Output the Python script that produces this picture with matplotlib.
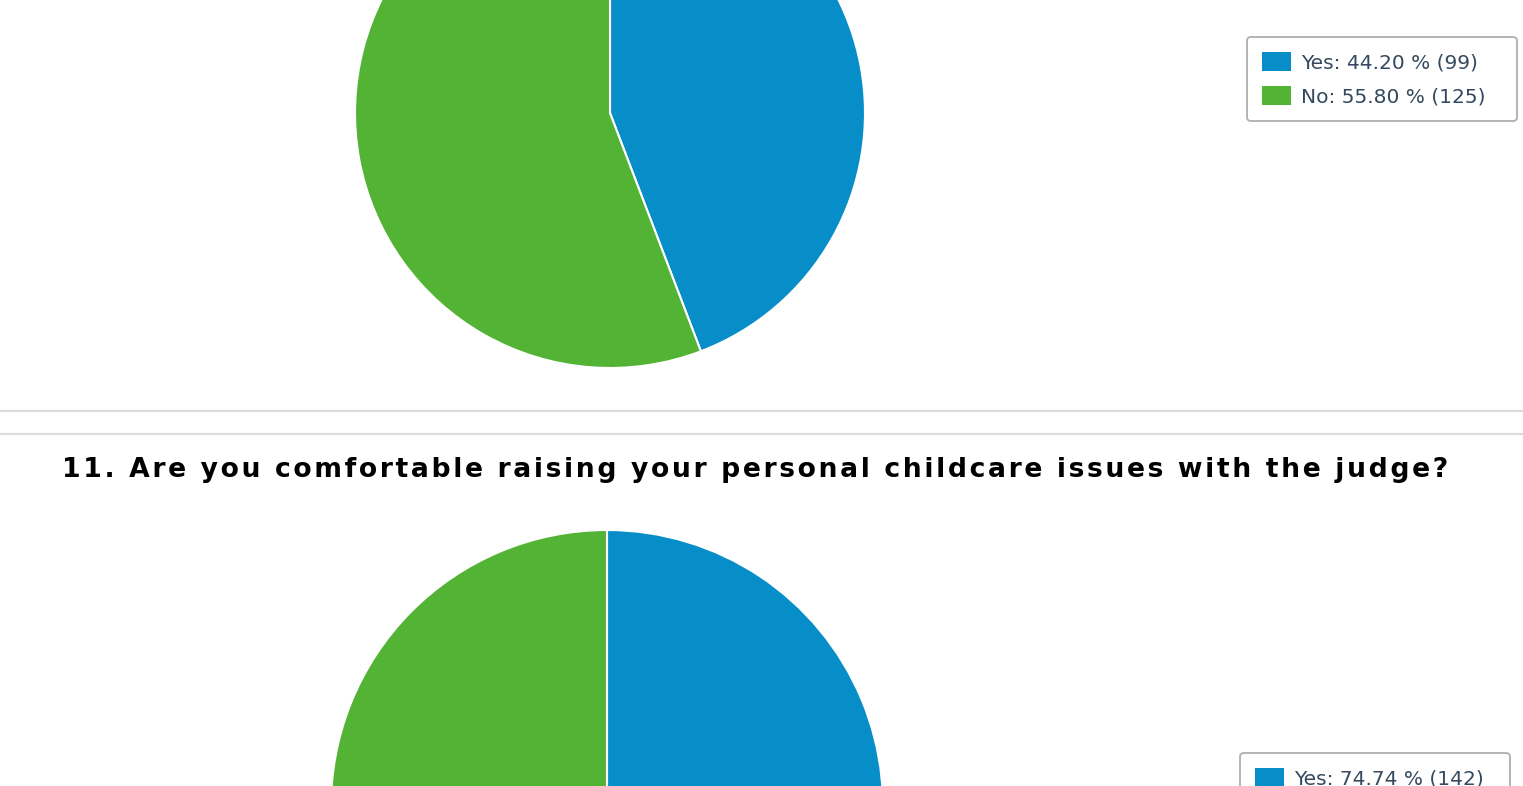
import matplotlib
matplotlib.use('Agg')
import matplotlib.pyplot as plt
from matplotlib.lines import Line2D

W, H = 1523, 786

# Q10 (top, partly cut off) and Q11 answers
labels = ['Yes', 'No']
q10_pct = [44.20, 55.80]
q10_cnt = [99, 125]
q11_pct = [74.74, 25.26]
q11_cnt = [142, 48]
q11_title = '11. Are you comfortable raising your personal childcare issues with the judge?'

colors = ['#078ec8', '#52b334']
text_col = '#34495e'
HAIR = '\u200a'


def px_axes(fig, cx, cy, r):
    """axes square around a pie centre given in pixels (y from top)"""
    return fig.add_axes([(cx - r) / W, (H - cy - r) / H, 2 * r / W, 2 * r / H])


def draw_pie(ax, pct, cnt, box):
    wedges, _ = ax.pie(pct, colors=colors, startangle=90, counterclock=False,
                       radius=1.0, wedgeprops=dict(edgecolor='white', linewidth=1.5))
    ax.set_xlim(-1, 1)
    ax.set_ylim(-1, 1)
    ax.set_aspect('equal')
    ax.axis('off')
    lab = [f'{l}: {p:.2f} % ({c})' for l, p, c in zip(labels, pct, cnt)]
    lx, ly, lw, lh = box
    leg = ax.figure.legend(wedges, lab, loc='upper left', mode='expand',
                           bbox_to_anchor=(lx / W, 1 - (ly + lh) / H, lw / W, lh / H),
                           bbox_transform=ax.figure.transFigure, borderaxespad=0,
                           fontsize=14.5, frameon=True, fancybox=True,
                           edgecolor='#9a9a9a', handlelength=1.45, handleheight=1.1,
                           handletextpad=0.5, labelspacing=0.7, borderpad=0.72,
                           labelcolor=text_col)
    leg.get_frame().set_linewidth(1.3)
    for h in leg.legend_handles:
        h.set_edgecolor('none')
    return leg


fig = plt.figure(figsize=(W / 100, H / 100), dpi=100)
fig.patch.set_facecolor('white')

ax1 = px_axes(fig, 610, 113, 255)
draw_pie(ax1, q10_pct, q10_cnt, (1247, 37, 270, 86))

# separators
for yy in (411, 434):
    fig.add_artist(Line2D([0, 1], [1 - yy / H] * 2, transform=fig.transFigure,
                          color='#dcdcdc', linewidth=1.6))

# spaced-out bold title like the source page
fig.text(755 / W, 1 - 470 / H, HAIR.join(q11_title), ha='center', va='center',
         fontsize=19.2, fontweight='bold', color='black')

ax2 = px_axes(fig, 607, 806, 276)
draw_pie(ax2, q11_pct, q11_cnt, (1240, 753, 270, 86))

fig.savefig('out.png', dpi=100)
